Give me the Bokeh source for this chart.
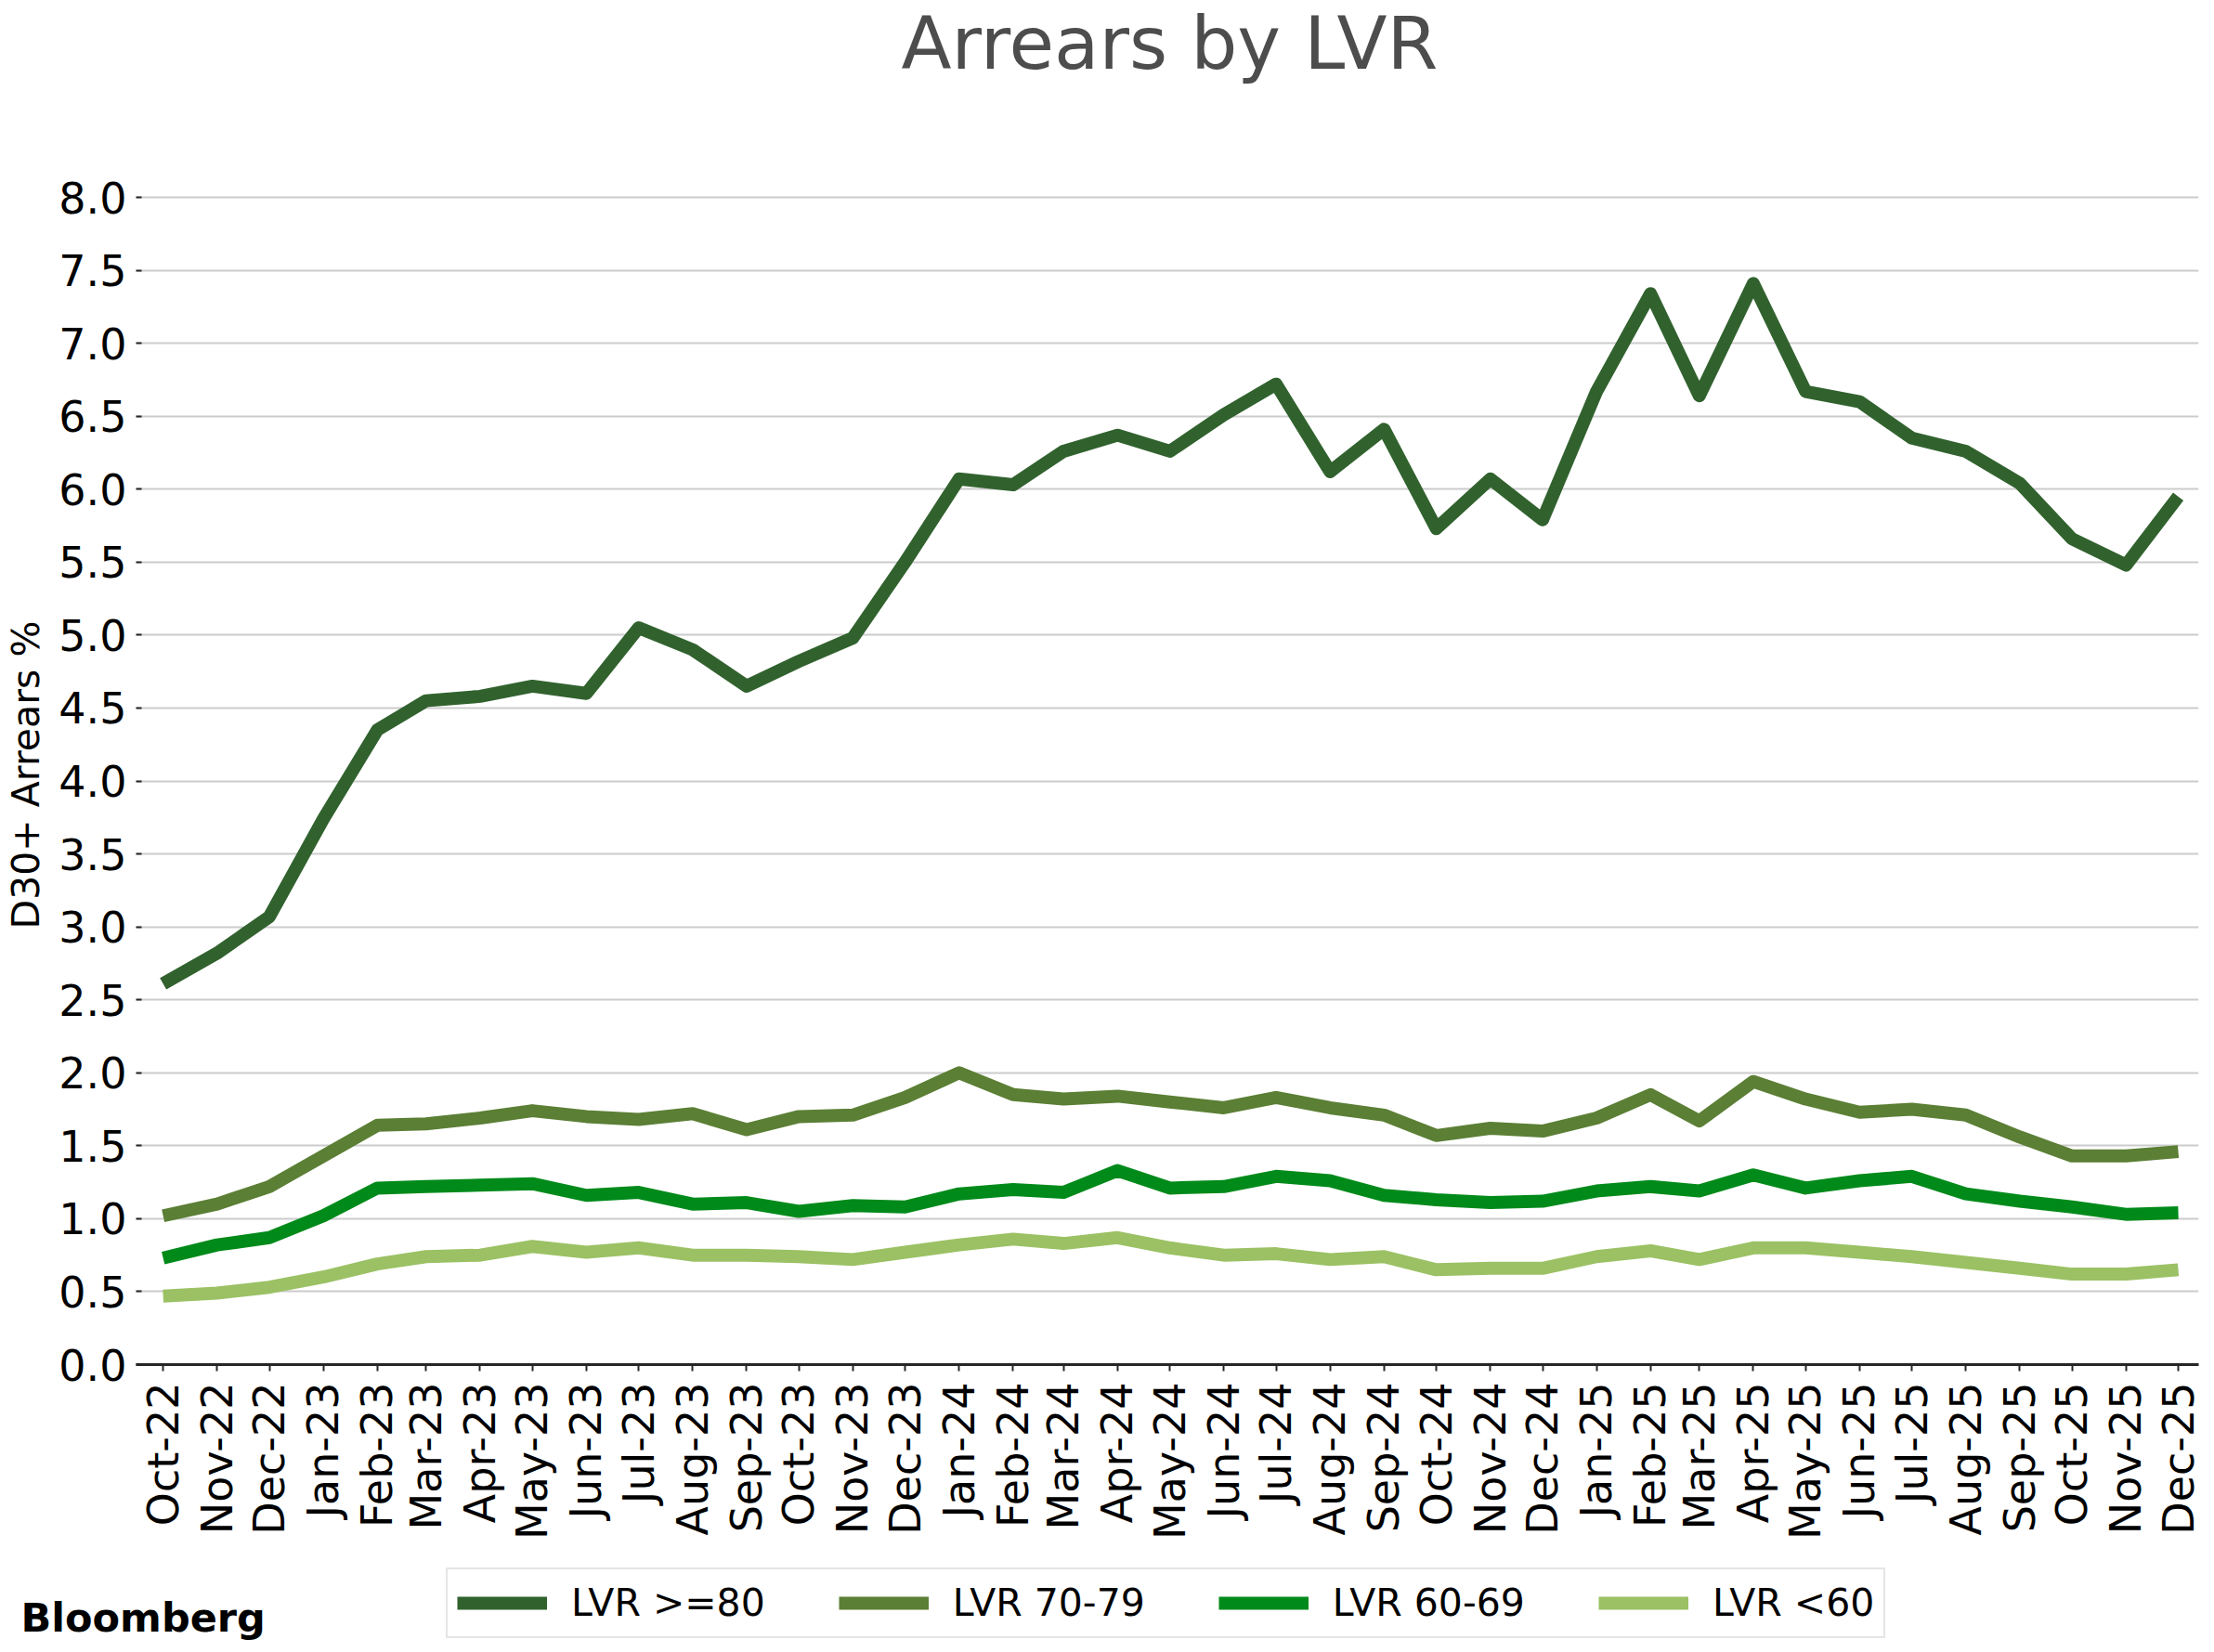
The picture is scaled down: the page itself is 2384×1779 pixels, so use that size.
import math
import pandas as pd
from datetime import datetime
from bokeh.plotting import figure
from bokeh.models import (ColumnDataSource, Range1d, FixedTicker, Legend, LegendItem,
                          Label, PrintfTickFormatter, SingleIntervalTicker)
from bokeh.embed import file_html
from bokeh.resources import INLINE

# ---------------- data ----------------
month_labels = ["Oct-22", "Nov-22", "Dec-22",
                "Jan-23", "Feb-23", "Mar-23", "Apr-23", "May-23", "Jun-23",
                "Jul-23", "Aug-23", "Sep-23", "Oct-23", "Nov-23", "Dec-23",
                "Jan-24", "Feb-24", "Mar-24", "Apr-24", "May-24", "Jun-24",
                "Jul-24", "Aug-24", "Sep-24", "Oct-24", "Nov-24", "Dec-24",
                "Jan-25", "Feb-25", "Mar-25", "Apr-25", "May-25", "Jun-25",
                "Jul-25", "Aug-25", "Sep-25", "Oct-25", "Nov-25", "Dec-25"]

lvr_80_plus = [2.61, 2.82, 3.07,
               3.74, 4.35, 4.55, 4.58, 4.65, 4.60, 5.05, 4.90, 4.65, 4.82, 4.98, 5.50,
               6.07, 6.03, 6.26, 6.37, 6.26, 6.51, 6.72, 6.12, 6.41, 5.73, 6.07, 5.79,
               6.67, 7.34, 6.64, 7.41, 6.67, 6.60, 6.35, 6.26, 6.04, 5.66, 5.48, 5.95]

lvr_70_79 = [1.02, 1.10, 1.22,
             1.43, 1.64, 1.65, 1.69, 1.74, 1.70, 1.68, 1.72, 1.61, 1.70, 1.71, 1.83,
             2.00, 1.85, 1.82, 1.84, 1.80, 1.76, 1.83, 1.76, 1.71, 1.57, 1.62, 1.60,
             1.69, 1.85, 1.67, 1.94, 1.82, 1.73, 1.75, 1.71, 1.56, 1.43, 1.43, 1.46]

lvr_60_69 = [0.73, 0.82, 0.87,
             1.02, 1.21, 1.22, 1.23, 1.24, 1.16, 1.18, 1.10, 1.11, 1.05, 1.09, 1.08,
             1.17, 1.20, 1.18, 1.33, 1.21, 1.22, 1.29, 1.26, 1.16, 1.13, 1.11, 1.12,
             1.19, 1.22, 1.19, 1.30, 1.21, 1.26, 1.29, 1.17, 1.12, 1.08, 1.03, 1.04]

lvr_under_60 = [0.47, 0.49, 0.53,
                0.60, 0.69, 0.74, 0.75, 0.81, 0.77, 0.80, 0.75, 0.75, 0.74, 0.72, 0.77,
                0.82, 0.86, 0.83, 0.87, 0.80, 0.75, 0.76, 0.72, 0.74, 0.65, 0.66, 0.66,
                0.74, 0.78, 0.72, 0.80, 0.80, 0.77, 0.74, 0.70, 0.66, 0.62, 0.62, 0.65]

series_names = ["LVR >=80", "LVR 70-79", "LVR 60-69", "LVR <60"]
series_colors = ["#31622e", "#5b7f35", "#008a1a", "#9bc164"]

title_text = "Arrears by LVR"
y_label_text = "D30+ Arrears %"
source_text = "Bloomberg"

dates = pd.to_datetime(month_labels, format="%b-%y")
source = ColumnDataSource(dict(date=dates, s80=lvr_80_plus, s70=lvr_70_79,
                               s60=lvr_60_69, s0=lvr_under_60))
cols = ["s80", "s70", "s60", "s0"]

W = 2375


def blank_fig(h):
    f = figure(width=W, height=h, x_range=Range1d(0, 1), y_range=Range1d(0, 1),
               output_backend="svg", toolbar_location=None,
               x_axis_location=None, y_axis_location=None,
               min_border_left=0, min_border_right=0, min_border_top=0, min_border_bottom=0)
    f.title = None
    f.grid.visible = False
    f.outline_line_color = None
    return f


# ---------------- title strip ----------------
top = blank_fig(150)
top.add_layout(Label(x=1259, y=104, x_units="screen", y_units="screen",
                     text=title_text, text_align="center", text_baseline="alphabetic",
                     text_font="DejaVu Sans", text_font_size="79px", text_color="#4d4d4d"))

# ---------------- main chart ----------------
p = figure(width=W, height=1519, x_axis_type="datetime",
           x_range=Range1d(start=datetime(2022, 9, 15, 11), end=datetime(2025, 12, 12, 17)),
           y_range=Range1d(0, 8.083),
           output_backend="svg", toolbar_location=None,
           min_border_left=146, min_border_right=8, min_border_top=49, min_border_bottom=200)
p.title = None
p.outline_line_color = None

for c, col in zip(cols, series_colors):
    p.line(x="date", y=c, source=source, line_color=col, line_width=14, line_join="round")

tick_ms = [d.value / 1e6 for d in dates]
p.xaxis.ticker = FixedTicker(ticks=tick_ms)
p.xaxis.major_label_overrides = {t: lab for t, lab in zip(tick_ms, month_labels)}
p.xaxis.major_label_orientation = math.pi / 2
p.xaxis.major_label_text_font = "DejaVu Sans"
p.xaxis.major_label_text_font_size = "46px"
p.xaxis.major_label_text_color = "black"
p.xaxis.major_label_standoff = 12
p.xaxis.axis_line_color = "#262626"
p.xaxis.axis_line_width = 3
p.xaxis.major_tick_line_color = "#262626"
p.xaxis.major_tick_line_width = 2
p.xaxis.major_tick_out = 7
p.xaxis.major_tick_in = 0
p.xaxis.minor_tick_line_color = None
p.xgrid.grid_line_color = None

p.yaxis.ticker = SingleIntervalTicker(interval=0.5, num_minor_ticks=0)
p.yaxis.formatter = PrintfTickFormatter(format="%.1f")
p.yaxis.major_label_text_font = "DejaVu Sans"
p.yaxis.major_label_text_font_size = "46px"
p.yaxis.major_label_text_color = "black"
p.yaxis.axis_line_color = None
p.yaxis.major_tick_line_color = "#262626"
p.yaxis.major_tick_line_width = 2
p.yaxis.major_tick_in = 6
p.yaxis.major_tick_out = 0
p.yaxis.major_label_standoff = 10
p.yaxis.minor_tick_line_color = None
p.yaxis.axis_label = y_label_text
p.yaxis.axis_label_text_font = "DejaVu Sans"
p.yaxis.axis_label_text_font_size = "41px"
p.yaxis.axis_label_text_font_style = "normal"
p.yaxis.axis_label_text_color = "black"
p.yaxis.axis_label_standoff = 8
p.ygrid.grid_line_color = "#cccccc"
p.ygrid.grid_line_width = 2

# ---------------- legend / source strip ----------------
bot = blank_fig(105)
# legend swatches: the same series drawn off-view in this strip
legend_renderers = [bot.line(x="date", y=c, source=source, line_color=col, line_width=14)
                    for c, col in zip(cols, series_colors)]
legend = Legend(items=[LegendItem(label=n, renderers=[r]) for n, r in zip(series_names, legend_renderers)],
                location=(480, 10), orientation="horizontal",
                label_text_font="DejaVu Sans", label_text_font_size="41px",
                label_text_color="black", label_text_baseline="middle",
                glyph_width=97, glyph_height=52, label_height=52, label_standoff=26,
                spacing=79, padding=10, margin=0,
                border_line_color="#cccccc", border_line_width=2,
                background_fill_color="white", background_fill_alpha=1.0)
bot.add_layout(legend)
bot.add_layout(Label(x=22, y=33, x_units="screen", y_units="screen",
                     text=source_text, text_align="left", text_baseline="alphabetic",
                     text_font="DejaVu Sans", text_font_style="bold",
                     text_font_size="43px", text_color="black"))

open("out.html", "w").write(file_html([top, p, bot], INLINE))
